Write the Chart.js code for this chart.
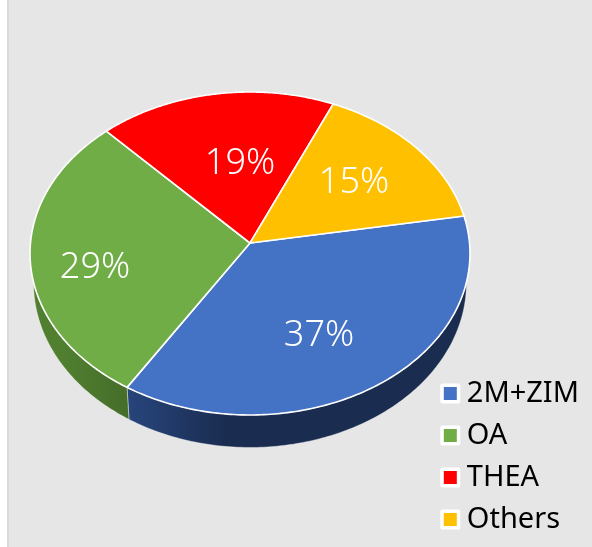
<!DOCTYPE html>
<html><head><meta charset="utf-8">
<style>
html,body{margin:0;padding:0;width:592px;height:547px;overflow:hidden;
background:linear-gradient(to right,#fff 7px,#d9d9d9 7px,#d9d9d9 9px,#e6e6e6 9px);}
#wrap{position:absolute;left:0;top:0;width:592px;height:547px;}
</style>
<script src="https://cdn.jsdelivr.net/npm/chart.js@4"></script>
</head><body><div id="wrap"><canvas id="c"></canvas></div>
<script>
const categories = ['2M+ZIM','OA','THEA','Others'];
const shares = [36.6,29.1,18.6,15.7];
const shareLabels = ['37%','29%','19%','15%'];
const topColors = ['#4472c4','#70ad47','#ff0000','#ffc000'];
const sideLight = ['#27457c','#507f30','#aa0000','#aa8000'];
const sideDark = ['#1a2c50','#3f6426','#880000','#886000'];
const labelAnchors = [[319,336],[95,268],[240,164],[354,183]];

const UI = 'Noto Sans';
const TOP = {cx:250,y0:243,a:219.5,b:160.8,p:-0.065};
const RIM = {cy:253.5,rx:220,ry:161};
const BASE = {cy:283,rx:216.5,ry:164};

function proj(t,r){
  const x=r*Math.cos(t), y=r*Math.sin(t), w=1+TOP.p*y;
  return [TOP.cx+TOP.a*x/w, TOP.y0+TOP.b*y/w];
}
function lower(t){
  const [X,Y]=proj(t,1);
  return [TOP.cx+(X-TOP.cx)/RIM.rx*BASE.rx, BASE.cy+(Y-RIM.cy)/RIM.ry*BASE.ry];
}
const N=160;
const pie3d={
  id:'pie3d',
  beforeDatasetDraw(chart,args){
    const ctx=chart.ctx, arcs=chart.getDatasetMeta(args.index).data;
    arcs.forEach((arc,i)=>{
      const lo=Math.max(arc.startAngle,-0.5), hi=Math.min(arc.endAngle,Math.PI+0.5);
      if(hi<=lo) return;
      const g=ctx.createLinearGradient(proj(hi,1)[0],0,proj(hi,1)[0]+100,0);
      g.addColorStop(0,sideLight[i]); g.addColorStop(1,sideDark[i]);
      ctx.beginPath();
      for(let k=0;k<=N;k++){const p=proj(lo+(hi-lo)*k/N,1); k?ctx.lineTo(p[0],p[1]):ctx.moveTo(p[0],p[1]);}
      for(let k=N;k>=0;k--){const p=lower(lo+(hi-lo)*k/N); ctx.lineTo(p[0],p[1]);}
      ctx.closePath();
      ctx.fillStyle=g; ctx.fill();
      ctx.strokeStyle='rgba(255,255,255,0.4)'; ctx.lineWidth=1; ctx.stroke();
    });
    arcs.forEach((arc,i)=>{
      ctx.beginPath();
      ctx.moveTo(TOP.cx,TOP.y0);
      for(let k=0;k<=N;k++){const p=proj(arc.startAngle+(arc.endAngle-arc.startAngle)*k/N,1); ctx.lineTo(p[0],p[1]);}
      ctx.closePath();
      ctx.fillStyle=topColors[i]; ctx.fill();
      ctx.lineJoin='round'; ctx.strokeStyle='#fff'; ctx.lineWidth=1.6; ctx.stroke();
    });
    return false;
  },
  afterDraw(chart){
    const ctx=chart.ctx;
    ctx.save();
    ctx.textAlign='center'; ctx.textBaseline='middle';
    ctx.fillStyle='#fff'; ctx.font='300 36px "'+UI+'"';
    shareLabels.forEach((s,i)=>ctx.fillText(s,labelAnchors[i][0],labelAnchors[i][1]));
    chart.legend.legendHitBoxes.forEach((h,i)=>{
      const my=h.top+h.height/2, x=h.left;
      ctx.fillStyle='#fff';
      ctx.beginPath(); ctx.roundRect(x,my-10,20,20,2); ctx.fill();
      ctx.fillStyle=topColors[i];
      ctx.fillRect(x+3.5,my-6.5,13,13);
    });
    ctx.restore();
  }
};
new Chart(document.getElementById('c'),{
  type:'pie',
  data:{labels:categories,datasets:[{data:shares,backgroundColor:topColors,borderColor:'#fff',borderWidth:1.6}]},
  options:{
    responsive:true,maintainAspectRatio:false,animation:false,rotation:80.2,
    layout:{padding:{right:3,bottom:0}},
    plugins:{
      tooltip:{enabled:false},
      legend:{position:'right',align:'end',
        labels:{color:'#000',boxWidth:12,boxHeight:12,padding:13,
          font:{family:UI,size:29},
          generateLabels(chart){
            return categories.map((c,i)=>({text:c,fillStyle:'rgba(0,0,0,0)',strokeStyle:'rgba(0,0,0,0)',lineWidth:0,index:i,fontColor:'#000'}));
          }}}
    }
  },
  plugins:[pie3d]
});
</script></body></html>
